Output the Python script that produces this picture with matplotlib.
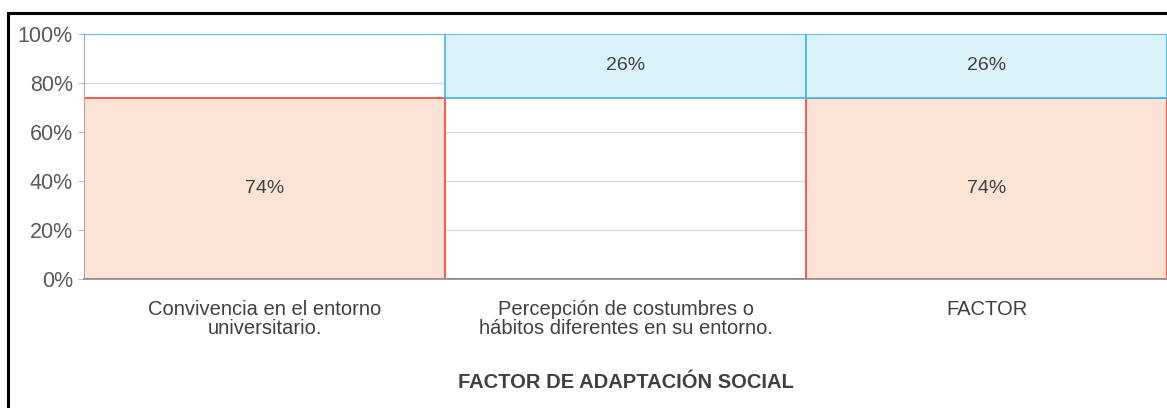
import matplotlib.pyplot as plt
from matplotlib.lines import Line2D
import numpy as np

categories = ["Convivencia en el entorno\nuniversitario.",
              "Percepción de costumbres o\nhábitos diferentes en su entorno.",
              "FACTOR"]
salmon_vals = [74, 0, 74]
blue_vals = [0, 26, 26]
y_ticks = [0, 20, 40, 60, 80, 100]
x_title = "FACTOR DE ADAPTACIÓN SOCIAL"

plt.rcParams['font.family'] = ['Liberation Sans', 'DejaVu Sans']

fig = plt.figure(figsize=(11.67, 4.08), dpi=100)
ax = fig.add_axes([0.072, 0.316, 0.928, 0.601])

x = np.arange(len(categories))
salmon = np.array(salmon_vals)
blue = np.array(blue_vals)

# salmon series from the axis up
ax.bar(x, salmon, width=1.0, color="#FBE4D6", edgecolor="#FF3B3B", linewidth=1.2, zorder=2)
# blue series sits at the top of each column
ax.bar(x, blue, width=1.0, bottom=100 - blue, color="#DAF3FA", edgecolor="#3FB8E8",
       linewidth=1.2, zorder=3)

for i in range(len(x)):
    if salmon[i] > 0:
        ax.text(x[i], salmon[i] / 2, f"{salmon[i]}%", ha="center", va="center",
                fontsize=14, color="#404040", zorder=4)
    if blue[i] > 0:
        ax.text(x[i], 100 - blue[i] / 2, f"{blue[i]}%", ha="center", va="center",
                fontsize=14, color="#404040", zorder=4)

ax.set_xlim(-0.5, 2.5)
ax.set_ylim(0, 100)
ax.set_yticks(y_ticks)
ax.set_yticklabels([f"{t}%" for t in y_ticks], fontsize=15.5, color="#595959")
ax.set_xticks(x)
ax.set_xticklabels(categories, fontsize=14.5, color="#404040", linespacing=1.0)
ax.tick_params(axis="x", length=0, pad=15)
ax.tick_params(axis="y", length=4, color="#bfbfbf", pad=4)

ax.yaxis.grid(True, color="#d9d9d9", linewidth=1, zorder=0)
ax.set_axisbelow(True)
for s in ["top", "right"]:
    ax.spines[s].set_visible(False)
ax.spines["left"].set_color("#a6a6a6")
ax.spines["bottom"].set_color("#8c8c8c")
ax.spines["bottom"].set_linewidth(1.2)

ax.set_xlabel(x_title, fontsize=14.5, fontweight="bold", color="#404040", labelpad=25)

# black outer frame (cropped on right and bottom)
fig.add_artist(Line2D([0.0065, 0.0065], [0.0, 0.968], color="black", linewidth=2.2,
                      transform=fig.transFigure))
fig.add_artist(Line2D([0.0065, 1.0], [0.968, 0.968], color="black", linewidth=2.2,
                      transform=fig.transFigure))

fig.savefig("out.png", dpi=100)
